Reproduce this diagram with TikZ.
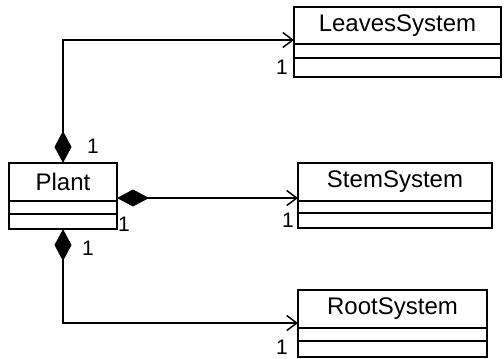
\documentclass[tikz,border=0pt]{standalone}
\usepackage{fontspec}
\setmainfont{Liberation Sans}
\usetikzlibrary{arrows.meta,positioning}

\begin{document}
\begin{tikzpicture}[x=1pt,y=-1pt,
    classname/.style={draw,line width=1.5pt,inner sep=0pt,outer sep=0pt,
        font=\fontsize{24}{28}\selectfont},
    compart/.style={draw,line width=1.5pt,inner sep=0pt,outer sep=0pt},
    mult/.style={inner sep=0pt,font=\fontsize{21}{24}\selectfont},
    comp/.style={line width=1.5pt,
        {Diamond[length=32pt,width=17pt]}-{Straight Barb[length=10pt,width=15pt,line width=1.5pt]}}]

\useasboundingbox (0,0) rectangle (504,359);

% Plant
\node[classname,minimum width=108pt,minimum height=38pt] (plant) at (63,182) {Plant};
\node[compart,minimum width=108pt,minimum height=13pt,below=0pt of plant] (plant-a) {};
\node[compart,minimum width=108pt,minimum height=15pt,below=0pt of plant-a] (plant-o) {};

% LeavesSystem
\node[classname,minimum width=207pt,minimum height=37pt] (leaves) at (397.5,25.5) {LeavesSystem};
\node[compart,minimum width=207pt,minimum height=14pt,below=0pt of leaves] (leaves-a) {};
\node[compart,minimum width=207pt,minimum height=19pt,below=0pt of leaves-a] (leaves-o) {};

% StemSystem
\node[classname,minimum width=194pt,minimum height=38pt] (stem) at (395,182) {StemSystem};
\node[compart,minimum width=194pt,minimum height=12pt,below=0pt of stem] (stem-a) {};
\node[compart,minimum width=194pt,minimum height=15pt,below=0pt of stem-a] (stem-o) {};

% RootSystem
\node[classname,minimum width=189pt,minimum height=38pt] (root) at (392.5,309) {RootSystem};
\node[compart,minimum width=189pt,minimum height=13pt,below=0pt of root] (root-a) {};
\node[compart,minimum width=189pt,minimum height=16pt,below=0pt of root-a] (root-o) {};

% compositions
\draw[comp] (plant.north) |- ([yshift=4pt]leaves.south west);
\draw[comp] ([yshift=3pt]plant.south east) -- ([yshift=3pt]stem.south west);
\draw[comp] (plant-o.south) |- ([yshift=5pt]root.south west);

% multiplicities
\node[mult] (m-top) at (93,146) {1};
\node[mult] (m-mid) at (124,224) {1};
\node[mult] (m-bot) at (88,248) {1};
\node[mult,left=6pt of leaves-o.west] (m-leaves) {1};
\node[mult,left=4pt of stem-o.west] (m-stem) {1};
\node[mult,left=10pt of root-o.west,yshift=2pt] (m-root) {1};

\end{tikzpicture}
\end{document}
